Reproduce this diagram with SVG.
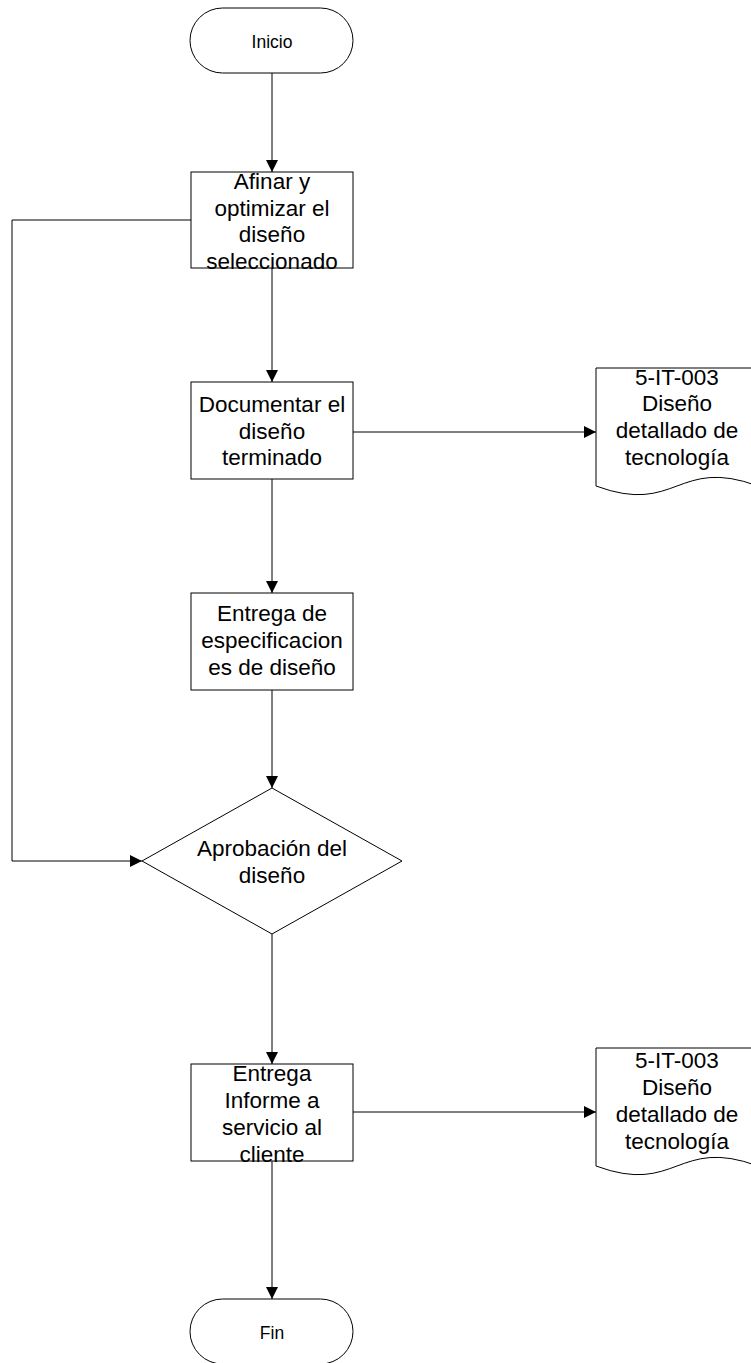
<svg xmlns="http://www.w3.org/2000/svg" width="751" height="1363" viewBox="0 0 751 1363">
<defs>
<style>
.s{fill:#fff;stroke:#000;stroke-width:1}
.t{font-family:"Liberation Sans",Arial,sans-serif;font-size:22.5px;fill:#000;text-anchor:middle}
.ts{font-family:"Liberation Sans",Arial,sans-serif;font-size:17.5px;fill:#000;text-anchor:middle}
.c{fill:none;stroke:#000;stroke-width:1}
</style>
<marker id="a" viewBox="0 0 12 12" markerWidth="12" markerHeight="12" refX="12" refY="6" orient="auto" markerUnits="userSpaceOnUse">
<path d="M0,0 L12,6 L0,12 Z" fill="#000"/>
</marker>
</defs>
<rect width="751" height="1363" fill="#fff"/>
<g id="connectors">
<path class="c" d="M272,73 V172" marker-end="url(#a)"/>
<path class="c" d="M272,268 V382" marker-end="url(#a)"/>
<path class="c" d="M353,432 H596" marker-end="url(#a)"/>
<path class="c" d="M272,479 V593" marker-end="url(#a)"/>
<path class="c" d="M272,690 V788" marker-end="url(#a)"/>
<path class="c" d="M191,220 H12 V861 H142" marker-end="url(#a)"/>
<path class="c" d="M272,934 V1064" marker-end="url(#a)"/>
<path class="c" d="M353,1112 H596" marker-end="url(#a)"/>
<path class="c" d="M272,1161 V1299" marker-end="url(#a)"/>
</g>
<g id="inicio">
<rect class="s" x="190" y="8" width="163" height="65" rx="32.5" ry="32.5"/>
<text class="ts" x="272" y="48">Inicio</text>
</g>
<g id="afinar">
<rect class="s" x="191" y="172" width="162" height="96"/>
<text class="t" x="272" y="189">Afinar y</text>
<text class="t" x="272" y="216">optimizar el</text>
<text class="t" x="272" y="242">diseño</text>
<text class="t" x="272" y="269">seleccionado</text>
</g>
<g id="documentar">
<rect class="s" x="191" y="382" width="162" height="97"/>
<text class="t" x="272" y="412">Documentar el</text>
<text class="t" x="272" y="438.5">diseño</text>
<text class="t" x="272" y="465">terminado</text>
</g>
<g id="doc1">
<path class="s" d="M596,368 H758 V486 C677,456 677,516 596,486 Z"/>
<text class="t" x="677" y="384.5">5-IT-003</text>
<text class="t" x="677" y="411">Diseño</text>
<text class="t" x="677" y="438">detallado de</text>
<text class="t" x="677" y="464.5">tecnología</text>
</g>
<g id="entrega-esp">
<rect class="s" x="191" y="593" width="162" height="97"/>
<text class="t" x="272" y="621">Entrega de</text>
<text class="t" x="272" y="648">especificacion</text>
<text class="t" x="272" y="674.5">es de diseño</text>
</g>
<g id="aprobacion">
<path class="s" d="M272,788 L402,861 L272,934 L142,861 Z"/>
<text class="t" x="272" y="856">Aprobación del</text>
<text class="t" x="272" y="883">diseño</text>
</g>
<g id="entrega-informe">
<rect class="s" x="191" y="1064" width="162" height="97"/>
<text class="t" x="272" y="1081">Entrega</text>
<text class="t" x="272" y="1108">Informe a</text>
<text class="t" x="272" y="1134.5">servicio al</text>
<text class="t" x="272" y="1161.5">cliente</text>
</g>
<g id="doc2">
<path class="s" d="M596,1048 H758 V1166 C677,1136 677,1196 596,1166 Z"/>
<text class="t" x="677" y="1068">5-IT-003</text>
<text class="t" x="677" y="1095">Diseño</text>
<text class="t" x="677" y="1122">detallado de</text>
<text class="t" x="677" y="1148.5">tecnología</text>
</g>
<g id="fin">
<rect class="s" x="190" y="1299" width="163" height="65" rx="32.5" ry="32.5"/>
<text class="ts" x="272" y="1338.5">Fin</text>
</g>
</svg>
